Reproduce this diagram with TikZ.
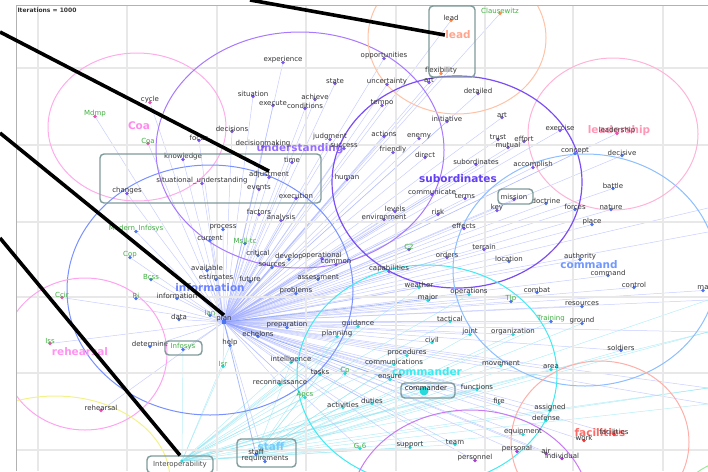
\documentclass[tikz,border=0pt]{standalone}
\usepackage{fontspec}
\setmainfont{DejaVu Sans}
\usetikzlibrary{backgrounds}

\definecolor{pdotc}{HTML}{7B55F0}
\definecolor{bdotc}{HTML}{4C74F2}
\definecolor{cdotc}{HTML}{2ADADA}
\definecolor{kdotc}{HTML}{EE4FB4}
\definecolor{odotc}{HTML}{FF8A4C}
\definecolor{rdotc}{HTML}{EE3B3B}
\definecolor{vdotc}{HTML}{A93BD6}
\definecolor{grnc}{HTML}{3FAE3F}
\definecolor{boxc}{HTML}{7E9A9A}
\definecolor{fanblue}{HTML}{A3AEFF}
\definecolor{fancyan}{HTML}{86E2F0}
\definecolor{ringUnd}{HTML}{A779FF}
\definecolor{ringSub}{HTML}{7A4DF5}
\definecolor{ringLead}{HTML}{FFC2A6}
\definecolor{ringLship}{HTML}{FFB3D6}
\definecolor{ringCoa}{HTML}{FFACEA}
\definecolor{ringInf}{HTML}{7891FF}
\definecolor{ringCmd}{HTML}{8DBEFF}
\definecolor{ringCmdr}{HTML}{3FEAF0}
\definecolor{ringReh}{HTML}{FFA3F0}
\definecolor{ringFac}{HTML}{FFAFA8}
\definecolor{ringLow}{HTML}{C97AF2}
\definecolor{ringYel}{HTML}{F3F28A}
\definecolor{ringGrn}{HTML}{9BE89B}

\begin{document}
\begin{tikzpicture}[
    x=1pt, y=-1pt,
    every node/.style={inner sep=0.3pt},
    wd/.style={font=\fontsize{7}{8}\selectfont, text=black!80},
    wdg/.style={font=\fontsize{7}{8}\selectfont, text=grnc},
    big/.style={font=\fontsize{10.5}{12}\selectfont\bfseries},
    dotbase/.style={circle, inner sep=0pt, minimum size=3.6pt},
    pdot/.style={dotbase, fill=pdotc},
    bdot/.style={dotbase, fill=bdotc},
    cdot/.style={dotbase, fill=cdotc},
    kdot/.style={dotbase, fill=kdotc},
    odot/.style={dotbase, fill=odotc},
    rdot/.style={dotbase, fill=rdotc},
    vdot/.style={dotbase, fill=vdotc},
    grpbox/.style={draw=boxc, line width=1.4pt, rounded corners=4pt},
    ring/.style={line width=1pt},
    edge/.style={draw=fanblue, opacity=0.6, line width=0.5pt},
    edgecy/.style={draw=fancyan, opacity=0.6, line width=0.5pt},
    edgedark/.style={draw=bdotc!80, opacity=0.6, line width=0.8pt},
    gridline/.style={draw=black!9, line width=1.1pt},
    frame/.style={draw=black!30, line width=0.8pt},
    thickline/.style={draw=black, line width=3.6pt},
]

\useasboundingbox (0,0) rectangle (708,471);

% Grid and clusters
\begin{scope}
\clip (16,5) rectangle (708,471);
\foreach \gx in {38,127,217,306,396,485,573,663}
    \draw[gridline] (\gx,5) -- (\gx,471);
\foreach \gy in {68,145,222,297,373,450}
    \draw[gridline] (16,\gy) -- (708,\gy);
\draw[ring, draw=ringCoa] (137,127) ellipse [x radius=89, y radius=74];
\draw[ring, draw=ringUnd] (300,150) ellipse [x radius=144, y radius=118];
\draw[ring, draw=ringLead] (457,38) ellipse [x radius=89, y radius=76];
\draw[ring, draw=ringLship] (613,134) ellipse [x radius=85, y radius=76];
\draw[ring, draw=ringSub, line width=1.2pt] (457,182) ellipse [x radius=125, y radius=106];
\draw[ring, draw=ringCmd] (585,270) ellipse [x radius=132, y radius=116];
\draw[ring, draw=ringInf] (210,290) ellipse [x radius=143, y radius=125];
\draw[ring, draw=ringCmdr] (427,375) ellipse [x radius=130, y radius=110];
\draw[ring, draw=ringReh] (85,354) ellipse [x radius=82, y radius=76];
\draw[ring, draw=ringYel] (55,480) ellipse [x radius=115, y radius=84];
\draw[ring, draw=ringFac] (600,442) ellipse [x radius=89, y radius=81];
\draw[ring, draw=ringLow] (470,510) ellipse [x radius=120, y radius=100];
\draw[ring, draw=ringGrn] (735,515) ellipse [x radius=60, y radius=55];
\end{scope}
\draw[frame] (16,471) -- (16,5) -- (708,5);

\node[anchor=west, font=\fontsize{6}{7}\selectfont\bfseries, text=black!80] (iter) at (17,10) {Iterations = 1000};

% Cluster labels
\node[big, text=ringCoa!80!magenta] (coabig) at (139,126) {Coa};
\node[big, text=ringUnd!90!blue] (undbig) at (300,149) {understanding};
\node[big, text=ringLead!85!red] (leadbig) at (458,35) {lead};
\node[big, text=ringLship!85!red] (lshipbig) at (619,131) {leadership};
\node[big, text=ringSub!80!blue] (subbig) at (458,179) {subordinates};
\node[big, text=ringInf!90!blue] (infbig) at (210,288) {information};
\node[big, text=ringCmd!80!blue] (cmdbig) at (589,265) {command};
\node[big, text=ringCmdr!90!cyan] (cmdrbig) at (427,372) {commander};
\node[big, text=ringReh!90!magenta] (rehbig) at (80,352) {rehearsal};
\node[big, text=ringCmd!80!cyan] (staffbig) at (271,447) {staff};
\node[big, text=ringFac!60!red] (facbig) at (600,433) {facilities};

% Words
\foreach \n/\x/\y/\t/\s in {
    experience/283/60/experience/wd, opportunities/384/56/opportunities/wd,
    state/335/81/state/wd, uncertainty/387/82/uncertainty/wd, artA/429/80/art/wd,
    situation/253/94/situation/wd, achieve/315/97/achieve/wd, execute/273/103/execute/wd,
    conditions/305/106/conditions/wd, tempo/382/103/tempo/wd, detailed/478/91/detailed/wd,
    initiative/447/119/initiative/wd, artB/502/115/art/wd, decisions/232/129/decisions/wd,
    focus/199/138/focus/wd, judgment/330/137/judgment/wd, success/344/146/success/wd,
    actions/384/134/actions/wd, enemy/419/136/enemy/wd, decisionmaking/263/144/decisionmaking/wd,
    friendly/393/150/friendly/wd, direct/425/155/direct/wd, trust/498/137/trust/wd,
    effort/524/139/effort/wd, mutual/508/145/mutual/wd, exercise/560/128/exercise/wd,
    knowledge/183/157/knowledge/wd, time/292/160/time/wd, subordinatesw/476/162/subordinates/wd,
    accomplish/533/165/accomplish/wd, adjustment/269/175/adjustment/wd, human/347/177/human/wd,
    situnder/202/181/situational\_understanding/wd, events/259/187/events/wd,
    changes/127/191/changes/wd, execution/296/196/execution/wd, communicate/432/192/communicate/wd,
    terms/465/196/terms/wd, mission/514/197/mission/wd, key/497/208/key/wd,
    levels/395/209/levels/wd, risk/438/212/risk/wd, environment/384/217/environment/wd,
    factors/259/212/factors/wd, analysis/281/218/analysis/wd, effects/464/226/effects/wd,
    operational/322/256/operational/wd, common/336/262/common/wd,
    capabilities/389/269/capabilities/wd, orders/447/255/orders/wd, terrain/484/247/terrain/wd,
    ctwo/409/247/C2/wdg}{
    \node[pdot] (\n) at (\x,\y+2.5) {};
    \node[\s] (\n-t) at (\x,\y) {\t};
}
\foreach \n/\x/\y/\t/\s in {
    modinf/136/229/Modern\_Infosys/wdg, cop/130/255/Cop/wdg, bcss/151/277/Bcss/wdg,
    ri/136/296/Ri/wdg, informationw/177/296/information/wd, available/207/268/available/wd,
    estimates/216/277/estimates/wd, future/250/279/future/wd, process/223/227/process/wd,
    current/210/238/current/wd, msll/245/241/Msll-tc/wdg, critical/258/253/critical/wd,
    develop/289/257/develop/wd, sources/272/265/sources/wd, assessment/318/277/assessment/wd,
    problems/296/291/problems/wd, data/179/317/data/wd, ian/210/313/Ian/wdg,
    determine/150/344/determine/wd, infosys/183/347/Infosys/wdg, help/230/343/help/wd,
    echelons/258/334/echelons/wd, preparation/287/325/preparation/wd,
    location/509/259/location/wd, authority/580/257/authority/wd, commandw/608/273/command/wd,
    control/634/285/control/wd, ma/703/288/ma/wd, combat/537/290/combat/wd,
    tlp/511/299/Tlp/wdg, resources/582/304/resources/wd, training/551/319/Training/wdg,
    ground/582/321/ground/wd, soldiers/621/348/soldiers/wd, decisive/622/153/decisive/wd,
    battle/613/186/battle/wd, nature/611/207/nature/wd, place/592/222/place/wd,
    doctrine/546/201/doctrine/wd, forces/575/207/forces/wd, concept/575/151/concept/wd,
    staffw/256/452/staff/wd, requirements/265/459/requirements/wd}{
    \node[bdot] (\n) at (\x,\y+2.5) {};
    \node[\s] (\n-t) at (\x,\y) {\t};
}
\foreach \n/\x/\y/\t/\s in {
    weather/419/285/weather/wd, major/428/298/major/wd, operations/469/292/operations/wd,
    tactical/450/319/tactical/wd, joint/470/332/joint/wd, organization/513/332/organization/wd,
    civil/432/340/civil/wd, guidance/358/324/guidance/wd, planning/337/334/planning/wd,
    intelligence/291/360/intelligence/wd, procedures/407/353/procedures/wd,
    communications/394/362/communications/wd, tasks/320/372/tasks/wd, cp/345/371/Cp/wdg,
    ensure/390/377/ensure/wd, reconnaissance/280/382/reconnaissance/wd,
    functions/477/387/functions/wd, apcs/305/395/Apcs/wdg, duties/372/401/duties/wd,
    activities/343/405/activities/wd, fire/499/401/fire/wd, assigned/550/408/assigned/wd,
    defense/546/418/defense/wd, equipment/523/432/equipment/wd, support/410/445/support/wd,
    team/455/442/team/wd, gsix/360/446/G-6/wdg, isr/223/364/Isr/wdg,
    movement/501/363/movement/wd, area/551/367/area/wd}{
    \node[cdot] (\n) at (\x,\y+2.5) {};
    \node[\s] (\n-t) at (\x,\y) {\t};
}
\foreach \n/\x/\y/\t/\s in {
    cycle/150/100/cycle/wd, mdmp/95/114/Mdmp/wdg, coa/148/141/Coa/wdg,
    leadershipw/617/131/leadership/wd, iss/50/341/Iss/wdg, ccir/62/295/Ccir/wdg,
    rehearsalw/101/408/rehearsal/wd}{
    \node[kdot] (\n) at (\x,\y+2.5) {};
    \node[\s] (\n-t) at (\x,\y) {\t};
}
\foreach \n/\x/\y/\t/\s in {
    leadw/451/18/lead/wd, flexibility/441/71/flexibility/wd, clausewitz/500/11/Clausewitz/wdg}{
    \node[odot] (\n) at (\x,\y+2.5) {};
    \node[\s] (\n-t) at (\x,\y) {\t};
}
\foreach \n/\x/\y/\t/\s in {
    facilitiesw/614/432/facilities/wd, work/584/438/work/wd}{
    \node[rdot] (\n) at (\x,\y+2.5) {};
    \node[\s] (\n-t) at (\x,\y) {\t};
}
\foreach \n/\x/\y/\t/\s in {
    personal/517/449/personal/wd, air/546/451/air/wd,
    individual/562/456/individual/wd, personnel/475/458/personnel/wd}{
    \node[vdot] (\n) at (\x,\y+2.5) {};
    \node[\s] (\n-t) at (\x,\y) {\t};
}

% Hubs
\node[bdot, minimum size=5pt] (plan) at (224,322) {};
\node[wd] (plan-t) at (224,319) {plan};
\node[cdot, minimum size=9pt] (commanderw) at (424,391) {};
\node[wd, text=black!90] (commanderw-t) at (426,388) {commander};
\node[cdot] (interopd) at (182,461) {};
\node[grpbox, minimum width=66pt, minimum height=17pt, font=\fontsize{7}{8}\selectfont, text=black!70] (interop) at (180,464.5) {Interoperability};

% Boxes
\draw[grpbox] (429,6) rectangle (475,77);
\draw[grpbox] (100,154) rectangle (321,203);
\draw[grpbox] (498,189) rectangle (533,204);
\draw[grpbox] (165,341) rectangle (202,355);
\draw[grpbox] (237,439) rectangle (296,467);
\draw[grpbox] (401,383) rectangle (455,398);

% Links
\coordinate (e1) at (708,208);
\coordinate (e2) at (708,232);
\coordinate (e3) at (708,300);
\coordinate (e4) at (708,332);
\coordinate (e5) at (708,388);
\coordinate (e6) at (708,404);
\begin{pgfonlayer}{background}
\foreach \n in {experience, opportunities, state, uncertainty, artA, situation, achieve, execute,
    conditions, tempo, detailed, initiative, artB, decisions, focus, judgment, success, actions,
    enemy, decisionmaking, friendly, direct, trust, effort, mutual, exercise, knowledge, time,
    subordinatesw, accomplish, adjustment, human, situnder, events, changes, execution,
    communicate, terms, mission, key, levels, risk, environment, factors, analysis, effects,
    operational, common, capabilities, orders, terrain, ctwo, modinf, cop, bcss, ri,
    informationw, available, estimates, future, process, current, msll, critical, develop,
    sources, assessment, problems, data, ian, determine, infosys, help, echelons, preparation,
    location, authority, commandw, control, ma, combat, tlp, resources, training, ground,
    soldiers, decisive, battle, nature, place, doctrine, forces, concept, requirements,
    weather, major, tactical, joint, organization, civil, guidance, planning, intelligence,
    procedures, communications, tasks, cp, ensure, reconnaissance, functions, apcs, duties,
    activities, fire, assigned, defense, equipment, support, team, gsix, isr, movement, area,
    cycle, mdmp, coa, leadershipw, iss, ccir, rehearsalw, leadw, flexibility, clausewitz,
    facilitiesw, work, personal, air, individual, personnel, e1, e2, e3, e4, e5, e6}
    \draw[edge] (plan) -- (\n);
\foreach \n in {infosys, isr, help, intelligence, tasks, planning, guidance, reconnaissance,
    apcs, activities, duties, commanderw, functions, fire, support, team, gsix, tactical,
    operations, weather, civil, equipment, movement, area, e4, e5}
    \draw[edgecy] (interopd) -- (\n);
\foreach \n in {intelligence, tasks, cp, ensure, commanderw, functions, procedures,
    communications, joint, organization, training, ground, soldiers, planning, guidance,
    e3, e4, e5, e6}
    \draw[edgecy] (staffw) -- (\n);
\draw[edgedark] (plan) -- (commanderw);
\draw[edgedark] (plan) -- (staffw);
\draw[edgedark] (plan) -- (operations);
\end{pgfonlayer}

% Pointers
\coordinate (p1) at (250,0);
\coordinate (p2) at (0,32);
\coordinate (p3) at (0,133);
\coordinate (p4) at (0,238);
\draw[thickline] (p1) -- (leadbig.west);
\draw[thickline] (p2) -- (adjustment-t.north);
\draw[thickline] (p3) -- (plan-t.north);
\draw[thickline] (p4) -- (interop.north);

\end{tikzpicture}
\end{document}
